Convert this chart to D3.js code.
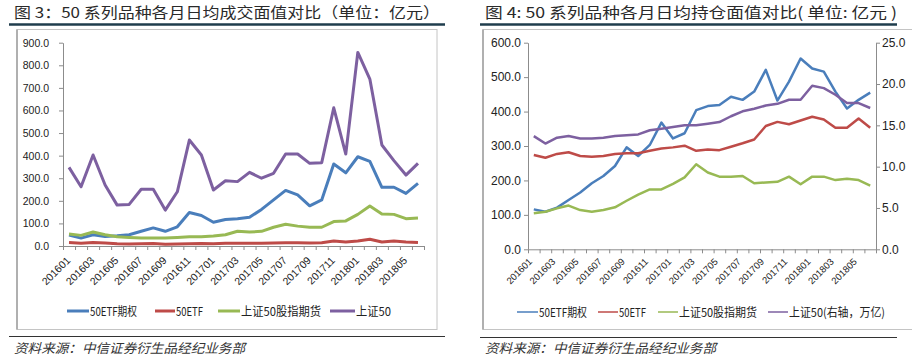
<!DOCTYPE html>
<html>
<head>
<meta charset="utf-8">
<script src="https://cdnjs.cloudflare.com/ajax/libs/d3/7.8.5/d3.min.js"></script>
<style>
  body { margin: 0; background: #fff; }
  svg { display: block; }
  text { font-family: "Liberation Sans", Arial, sans-serif; fill: #222; }
  .cjk { font-family: "Noto Sans CJK SC", "Liberation Sans", sans-serif; }
</style>
</head>
<body>
<svg id="chart" width="912" height="361"></svg>
<script>
// months shared by both charts
const months = ['201601', '201602', '201603', '201604', '201605', '201606', '201607', '201608',
  '201609', '201610', '201611', '201612', '201701', '201702', '201703', '201704', '201705', '201706',
  '201707', '201708', '201709', '201710', '201711', '201712', '201801', '201802', '201803', '201804',
  '201805', '201806'];
const shownMonths = months.filter((m, i) => i % 2 === 0);

// chart 3: daily average traded value (亿元)
const names3 = ['50ETF期权', '50ETF', '上证50股指期货', '上证50'];
const optTrade = [48, 35, 50, 42, 45, 50, 65, 80, 65, 85, 148, 135, 105, 117, 121, 127, 162, 204, 246, 226,
  178, 204, 363, 324, 395, 375, 260, 260, 233, 277];
const etfTrade = [15, 12, 15, 13, 10, 9, 10, 11, 8, 9, 10, 11, 10, 12, 12, 12, 12, 13, 14, 14,
  13, 14, 22, 18, 22, 30, 18, 22, 18, 16];
const futTrade = [53, 47, 62, 50, 41, 38, 35, 35, 35, 38, 41, 41, 44, 50, 65, 62, 65, 83, 96, 88,
  83, 83, 108, 111, 140, 177, 142, 140, 121, 124];
const sz50Trade = [348, 262, 403, 270, 181, 184, 251, 251, 159, 240, 469, 403, 248, 289, 285, 326, 300, 322, 407, 407,
  366, 369, 612, 407, 857, 739, 447, 378, 314, 366];
const yTicks3 = [0, 100, 200, 300, 400, 500, 600, 700, 800, 900];

// chart 4: daily average open interest value (亿元), 上证50 on right axis (万亿)
const names4 = ['50ETF期权', '50ETF', '上证50股指期货', '上证50(右轴，万亿)'];
const optHold = [116, 109, 121, 143, 165, 192, 213, 242, 296, 271, 303, 368, 322, 337, 404, 416, 419, 443, 434, 458,
  521, 432, 487, 554, 525, 516, 458, 409, 434, 455];
const etfHold = [274, 266, 277, 282, 271, 269, 271, 277, 279, 279, 286, 293, 296, 301, 286, 290, 288, 298, 308, 319,
  358, 370, 363, 374, 385, 377, 353, 353, 380, 353];
const futHold = [105, 109, 119, 127, 114, 109, 114, 122, 141, 159, 174, 174, 190, 209, 247, 223, 211, 211, 213, 192,
  194, 196, 211, 189, 211, 211, 201, 205, 201, 185];
const sz50Hold = [13.7, 12.8, 13.5, 13.7, 13.4, 13.4, 13.5, 13.7, 13.8, 13.9, 14.4, 14.6, 14.8, 15.0, 15.0, 15.2, 15.4, 16.1, 16.7, 17.0,
  17.4, 17.6, 18.1, 18.1, 19.8, 19.5, 18.7, 17.7, 17.7, 17.1];
const yTicks4 = [0, 100, 200, 300, 400, 500, 600];
const yTicks4R = [0, 5, 10, 15, 20, 25];

const colors = ['#4a7ebb', '#be4b48', '#98b954', '#7d60a0'];
const source = '资料来源：中信证券衍生品经纪业务部';

const svg = d3.select('#chart');

function drawPanel(cfg) {
  const g = svg.append('g');

  // title and rules
  g.append('text').attr('class', 'cjk')
    .attr('x', cfg.titleX).attr('y', 18)
    .attr('font-size', 15).attr('textLength', cfg.titleW).attr('lengthAdjust', 'spacingAndGlyphs')
    .style('fill', '#2a2a2a')
    .text(cfg.title);
  g.append('line').attr('x1', cfg.ruleX0).attr('x2', cfg.ruleX1).attr('y1', 24.5).attr('y2', 24.5)
    .attr('stroke', '#1f3d4d').attr('stroke-width', 2.5);
  g.append('line').attr('x1', cfg.ruleX0).attr('x2', cfg.ruleX1).attr('y1', cfg.bottomRule).attr('y2', cfg.bottomRule)
    .attr('stroke', '#333').attr('stroke-width', 1);
  g.append('text').attr('class', 'cjk')
    .attr('x', cfg.titleX).attr('y', 353)
    .attr('font-size', 13).attr('font-style', 'italic')
    .attr('textLength', 231).attr('lengthAdjust', 'spacingAndGlyphs')
    .style('fill', '#333')
    .text(source);

  // chart frame
  g.append('rect').attr('x', cfg.boxX0).attr('y', 29.5).attr('width', cfg.boxX1 - cfg.boxX0).attr('height', 300)
    .attr('fill', '#fff').attr('stroke', '#c4c4c4');
  g.append('line').attr('x1', cfg.boxX0).attr('x2', cfg.boxX0).attr('y1', 29.5).attr('y2', 329.5)
    .attr('stroke', '#b0b0b0').attr('stroke-width', 2);

  const x = d3.scaleBand().domain(months).range([cfg.px0, cfg.px1]).padding(0);
  const edges = d3.scaleLinear().domain([0, months.length]).range([cfg.px0, cfg.px1]);
  const y = d3.scaleLinear().domain([0, cfg.yMax]).range([cfg.pyBot, cfg.pyTop]);

  // y axis left
  const ya = g.append('g').attr('transform', `translate(${cfg.px0},0)`)
    .call(d3.axisLeft(y).tickValues(cfg.yTicks).tickFormat(d3.format('.1f')).tickSize(4).tickPadding(cfg.yPad).tickSizeOuter(0));
  ya.selectAll('text').attr('font-size', cfg.yFont).style('fill', '#222');

  let yR = null;
  if (cfg.yRMax) {
    yR = d3.scaleLinear().domain([0, cfg.yRMax]).range([cfg.pyBot, cfg.pyTop]);
    const yra = g.append('g').attr('transform', `translate(${cfg.px1},0)`)
      .call(d3.axisRight(yR).tickValues(yTicks4R).tickFormat(d3.format('.1f')).tickSize(4).tickPadding(2).tickSizeOuter(0));
    yra.selectAll('text').attr('font-size', cfg.yFont).style('fill', '#222');
  }

  // x axis: tick marks at category edges, labels every other month
  g.append('g').attr('transform', `translate(0,${cfg.pyBot})`)
    .call(d3.axisBottom(edges).tickValues(d3.range(months.length + 1)).tickFormat('').tickSize(4).tickSizeOuter(0));
  g.selectAll('.domain, .tick line').attr('stroke', '#8c8c8c');

  g.append('g').selectAll('text')
    .data(shownMonths)
    .enter()
    .append('text')
    .attr('transform', d => `translate(${x(d) + x.bandwidth() / 2 + cfg.xLabDx},${cfg.pyBot + cfg.xLabDy}) rotate(-45)`)
    .attr('text-anchor', 'end')
    .attr('font-size', cfg.xFont)
    .style('fill', '#222')
    .text(d => d);

  // series lines
  cfg.series.forEach((s, k) => {
    const ys = (cfg.rightIndex === k) ? yR : y;
    const ln = d3.line().x((d, i) => x(months[i]) + x.bandwidth() / 2).y(d => ys(d));
    g.append('path').datum(s)
      .attr('d', ln)
      .attr('fill', 'none')
      .attr('stroke', colors[k])
      .attr('stroke-width', cfg.lineW)
      .attr('stroke-linejoin', 'round');
  });

  // legend
  cfg.legend.forEach((it, k) => {
    g.append('line').attr('x1', it[0]).attr('x2', it[1]).attr('y1', cfg.legY).attr('y2', cfg.legY)
      .attr('stroke', colors[k]).attr('stroke-width', cfg.legLineW);
    g.append('text').attr('class', 'cjk')
      .attr('x', it[1] + 1).attr('y', cfg.legY + 4.5)
      .attr('font-size', 12).attr('textLength', it[2]).attr('lengthAdjust', 'spacingAndGlyphs')
      .style('fill', '#222')
      .text(cfg.names[k]);
  });
}

drawPanel({
  title: '图 3：50 系列品种各月日均成交面值对比（单位：亿元）',
  titleX: 14, titleW: 426,
  ruleX0: 9, ruleX1: 445, bottomRule: 336.5,
  boxX0: 17, boxX1: 437,
  px0: 63, px1: 424, pyTop: 42.7, pyBot: 246,
  yMax: 900, yTicks: yTicks3, yFont: 10.5, yPad: 10, xFont: 10.5,
  xLabDx: 2, xLabDy: 15,
  series: [optTrade, etfTrade, futTrade, sz50Trade],
  names: names3, lineW: 3,
  legY: 311, legLineW: 3,
  legend: [[67, 89, 47], [155, 175, 27], [218, 240, 80], [330, 355, 35]]
});

drawPanel({
  title: '图 4: 50 系列品种各月日均持仓面值对比( 单位: 亿元 )',
  titleX: 485, titleW: 412,
  ruleX0: 480, ruleX1: 897, bottomRule: 337.5,
  boxX0: 483, boxX1: 916,
  px0: 528, px1: 876, pyTop: 42.7, pyBot: 249.3,
  yMax: 600, yTicks: yTicks4, yFont: 12, yPad: 3, xFont: 9.5,
  xLabDx: -1, xLabDy: 13,
  yRMax: 25, rightIndex: 3,
  series: [optHold, etfHold, futHold, sz50Hold],
  names: names4, lineW: 2.5,
  legY: 312, legLineW: 1.5,
  legend: [[517, 538, 48], [598, 618, 27], [658, 678, 78], [768, 788, 96]]
});
</script>
</body>
</html>
